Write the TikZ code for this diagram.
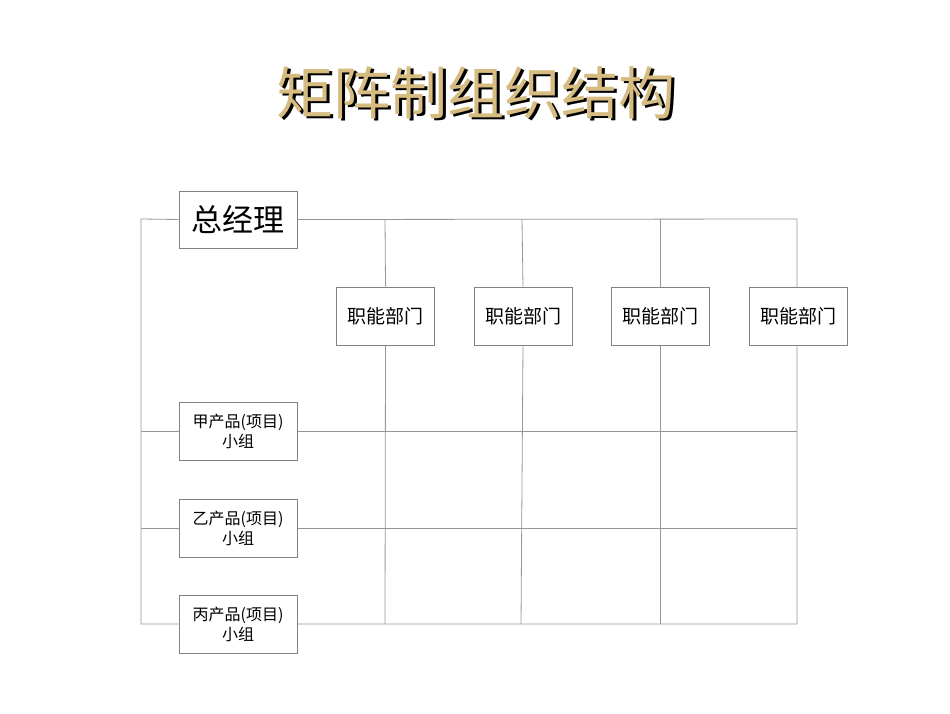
\documentclass[tikz,border=0pt]{standalone}
\usepackage{fontspec}
\newfontfamily\cjk{Noto Sans CJK SC}
\usetikzlibrary{backgrounds}
\definecolor{linegray}{RGB}{150,150,150}
\definecolor{boxgray}{RGB}{130,130,130}
\definecolor{gold}{RGB}{215,188,130}
\tikzset{
  x=1pt, y=1pt,
  grid/.style={draw=linegray, line width=0.8pt},
  box/.style={draw=boxgray, line width=0.8pt, fill=white, inner sep=0pt, align=center},
  gmbox/.style={box, minimum width=118pt, minimum height=57pt, font=\cjk\fontsize{31}{36}\selectfont},
  fnbox/.style={box, minimum width=98pt, minimum height=58pt, font=\cjk\fontsize{19}{22}\selectfont},
  pdbox/.style={box, minimum width=118pt, minimum height=58pt, font=\cjk\fontsize{16}{20}\selectfont},
  titletext/.style={font=\cjk\fontsize{57}{60}\selectfont, inner sep=0pt}
}
\newcommand{\shadowtitle}[1]{\makebox[0pt][l]{\hspace{2.5pt}\raisebox{-2.5pt}{\color{black}#1}}{\color{gold}#1}}
\begin{document}
\begin{tikzpicture}
\useasboundingbox (0,0) rectangle (950,-713);
% title
\node[titletext] (title) at (476,-94) {\shadowtitle{矩阵制组织结构}};
% corners
\coordinate (tl) at (141,-219);
\coordinate (tr) at (797,-219);
\coordinate (bl) at (141,-624);
\coordinate (br) at (797,-624);
% nodes
\node[gmbox] (gm) at (238,-219.5) {总经理};
\node[fnbox] (f1) at (385.5,-316) {职能部门};
\node[fnbox] (f2) at (523,-316) {职能部门};
\node[fnbox] (f3) at (660,-316) {职能部门};
\node[fnbox] (f4) at (798,-316) {职能部门};
\node[pdbox] (p1) at (238,-431) {甲产品(项目)\\小组};
\node[pdbox] (p2) at (238,-528) {乙产品(项目)\\小组};
\node[pdbox] (p3) at (238,-624) {丙产品(项目)\\小组};
% row ends
\coordinate (r1l) at (141,-431); \coordinate (r1r) at (797,-431);
\coordinate (r2l) at (141,-528); \coordinate (r2r) at (797,-528);
% column tops/bottoms
\coordinate (c1t) at (385,-219); \coordinate (c1b) at (385,-624);
\coordinate (c2t) at (522,-219); \coordinate (c2b) at (521,-624);
\coordinate (c3t) at (660,-219); \coordinate (c3b) at (660,-624);
\begin{pgfonlayer}{background}
\draw[grid] (gm.west) -- (tl) -- (bl) -- (p3.west);
\draw[grid] (gm.east) -- (tr) -- (br) -- (p3.east);
\draw[grid] (r1l) -- (p1.west);
\draw[grid] (p1.east) -- (r1r);
\draw[grid] (r2l) -- (p2.west);
\draw[grid] (p2.east) -- (r2r);
\draw[grid] (c1t) -- (f1.north);
\draw[grid] (f1.south) -- (c1b);
\draw[grid] (c2t) -- (f2.north);
\draw[grid] (f2.south) -- (c2b);
\draw[grid] (c3t) -- (f3.north);
\draw[grid] (f3.south) -- (c3b);
\end{pgfonlayer}
\end{tikzpicture}
\end{document}
